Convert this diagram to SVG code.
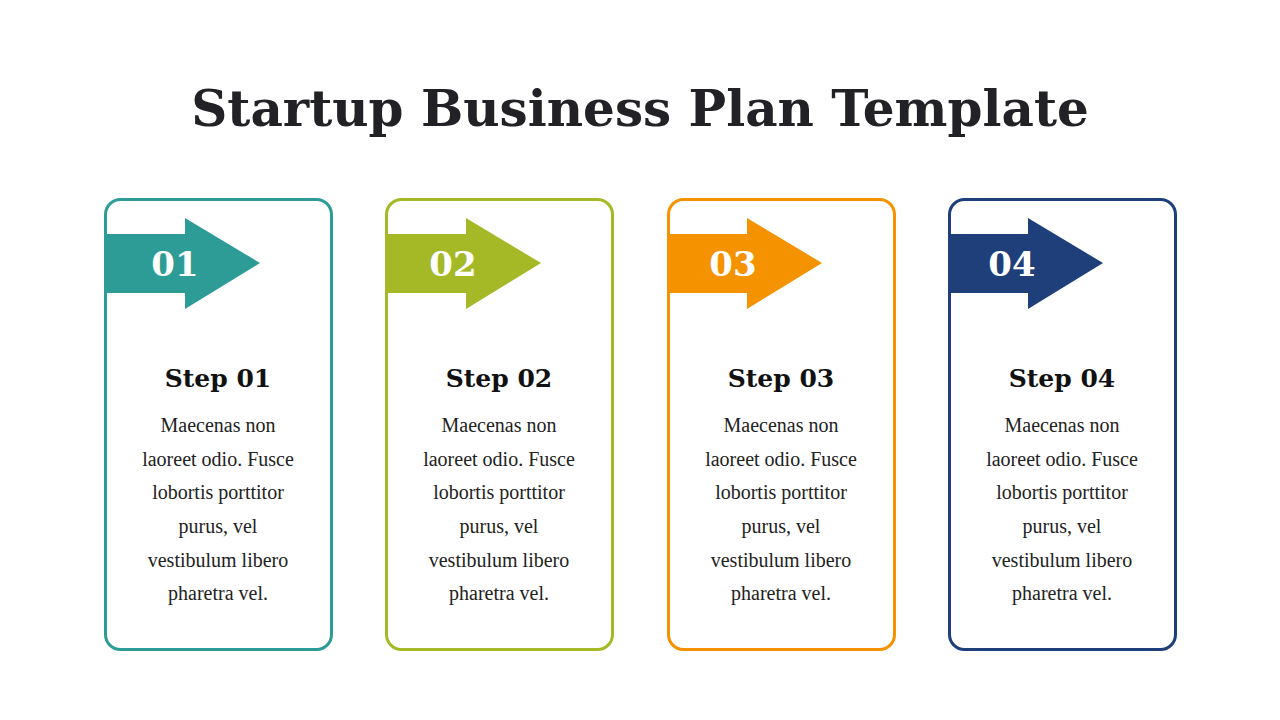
<svg xmlns="http://www.w3.org/2000/svg" width="1280" height="720" viewBox="0 0 1280 720">
<style>
.t{font-family:"DejaVu Serif","Liberation Serif",serif;font-weight:bold;fill:#222226;text-anchor:middle}
.n{font-family:"DejaVu Serif","Liberation Serif",serif;font-weight:bold;fill:#fff;font-size:34px;text-anchor:middle}
.s{font-family:"DejaVu Serif","Liberation Serif",serif;font-weight:bold;fill:#111;font-size:25px;text-anchor:middle}
.b{font-family:"Liberation Serif",serif;fill:#222;font-size:20px;text-anchor:middle}
.box{fill:#fff;stroke-width:3}
</style>
<rect width="1280" height="720" fill="#fff"/>
<text class="t" x="640" y="126" font-size="50">Startup Business Plan Template</text>
<g id="step1">
<rect class="box" x="105.5" y="199.5" width="226" height="450" rx="15" stroke="#2E9C96"/>
<path d="M105 234H185V218L260 263L185 309V293H105Z" fill="#2E9C96"/>
<text class="n" x="175" y="276">01</text>
<text class="s" x="218" y="387">Step 01</text>
<text class="b" x="218"><tspan x="218" y="432">Maecenas non</tspan><tspan x="218" y="466">laoreet odio. Fusce</tspan><tspan x="218" y="499">lobortis porttitor</tspan><tspan x="218" y="533">purus, vel</tspan><tspan x="218" y="567">vestibulum libero</tspan><tspan x="218" y="600">pharetra vel.</tspan></text>
</g>
<g id="step2">
<rect class="box" x="386.5" y="199.5" width="226" height="450" rx="15" stroke="#A5B826"/>
<path d="M386 234H466V218L541 263L466 309V293H386Z" fill="#A5B826"/>
<text class="n" x="453" y="276">02</text>
<text class="s" x="499" y="387">Step 02</text>
<text class="b"><tspan x="499" y="432">Maecenas non</tspan><tspan x="499" y="466">laoreet odio. Fusce</tspan><tspan x="499" y="499">lobortis porttitor</tspan><tspan x="499" y="533">purus, vel</tspan><tspan x="499" y="567">vestibulum libero</tspan><tspan x="499" y="600">pharetra vel.</tspan></text>
</g>
<g id="step3">
<rect class="box" x="668.5" y="199.5" width="226" height="450" rx="15" stroke="#F59200"/>
<path d="M668 234H747V218L822 263L747 309V293H668Z" fill="#F59200"/>
<text class="n" x="733" y="276">03</text>
<text class="s" x="781" y="387">Step 03</text>
<text class="b"><tspan x="781" y="432">Maecenas non</tspan><tspan x="781" y="466">laoreet odio. Fusce</tspan><tspan x="781" y="499">lobortis porttitor</tspan><tspan x="781" y="533">purus, vel</tspan><tspan x="781" y="567">vestibulum libero</tspan><tspan x="781" y="600">pharetra vel.</tspan></text>
</g>
<g id="step4">
<rect class="box" x="949.5" y="199.5" width="226" height="450" rx="15" stroke="#1F3F7A"/>
<path d="M949 234H1028V218L1103 263L1028 309V293H949Z" fill="#1F3F7A"/>
<text class="n" x="1012" y="276">04</text>
<text class="s" x="1062" y="387">Step 04</text>
<text class="b"><tspan x="1062" y="432">Maecenas non</tspan><tspan x="1062" y="466">laoreet odio. Fusce</tspan><tspan x="1062" y="499">lobortis porttitor</tspan><tspan x="1062" y="533">purus, vel</tspan><tspan x="1062" y="567">vestibulum libero</tspan><tspan x="1062" y="600">pharetra vel.</tspan></text>
</g>
<g id="connectors"></g>
</svg>
